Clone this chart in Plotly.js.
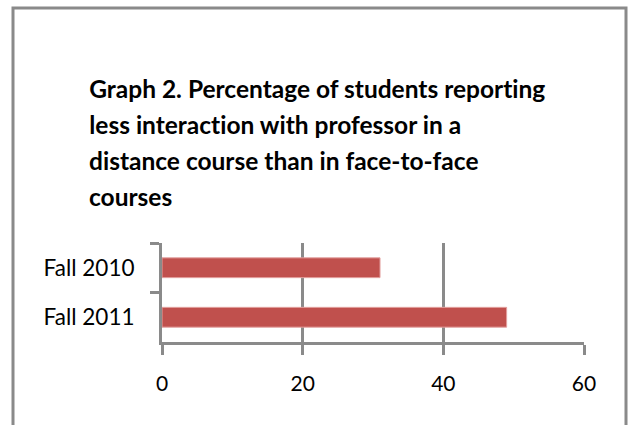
<!DOCTYPE html>
<html>
<head>
<meta charset="utf-8">
<script src="https://cdn.plot.ly/plotly-3.0.1.min.js"></script>
<style>
  html, body { margin: 0; padding: 0; background: #ffffff; }
  #chart { width: 631px; height: 425px; }
  #chart text { font-variant-ligatures: none; font-feature-settings: "liga" 0; }
</style>
</head>
<body>
<div id="chart"></div>
<script>
// ---- data ----
const categories = ['Fall 2010', 'Fall 2011'];
const values = [31, 49];
const xTickValues = [0, 20, 40, 60];
const xTickLabels = ['0', '20', '40', '60'];
const titleLines = [
  'Graph 2. Percentage of students reporting',
  'less interaction with professor in a',
  'distance course than in face-to-face',
  'courses'
];

// ---- layout helpers (pixel -> paper) ----
const W = 631, H = 425;
const M = { l: 162, r: 47, t: 243, b: 83 };
const PW = W - M.l - M.r, PH = H - M.t - M.b;
const px = x => (x - M.l) / PW;
const py = y => (H - M.b - y) / PH;

const gray = '#8a8a8a';
const titleY = [88, 124, 160, 196];

const annotations = titleLines.map((t, i) => ({
  text: t,
  xref: 'paper', yref: 'paper',
  x: px(87), y: py(titleY[i]),
  xanchor: 'left', yanchor: 'middle',
  showarrow: false,
  font: { family: 'Lato, sans-serif', size: 24.5, color: '#000000', weight: 'bold' }
}));

const trace = {
  type: 'bar',
  orientation: 'h',
  y: categories,
  x: values,
  width: 0.4,
  marker: { color: '#c0504d', line: { color: '#e3a19f', width: 1 } },
  hoverinfo: 'skip'
};

const layout = {
  width: W, height: H,
  margin: M,
  paper_bgcolor: '#ffffff',
  plot_bgcolor: '#ffffff',
  showlegend: false,
  font: { family: 'Lato, sans-serif', color: '#000000' },
  xaxis: {
    range: [0, 60],
    tickvals: xTickValues,
    ticktext: xTickLabels,
    showgrid: true, gridcolor: gray, gridwidth: 3,
    zeroline: false,
    showline: true, linecolor: gray, linewidth: 3,
    ticks: 'outside', ticklen: 10, tickwidth: 3, tickcolor: gray,
    ticklabelstandoff: 11,
    tickfont: { family: 'Lato, sans-serif', size: 21, color: '#000000' },
    fixedrange: true
  },
  yaxis: {
    type: 'category',
    autorange: 'reversed',
    tickson: 'boundaries',
    showgrid: false, zeroline: false,
    showline: true, linecolor: gray, linewidth: 3,
    ticks: 'outside', ticklen: 9, tickwidth: 3, tickcolor: gray,
    ticklabelstandoff: 20,
    tickfont: { family: 'Lato, sans-serif', size: 22.5, color: '#000000' },
    fixedrange: true
  },
  shapes: [{
    type: 'rect', xref: 'paper', yref: 'paper', layer: 'below',
    x0: px(13), x1: px(626), y0: py(440), y1: py(8),
    line: { color: gray, width: 3 }, fillcolor: 'rgba(0,0,0,0)'
  }],
  annotations: annotations
};

Plotly.newPlot('chart', [trace], layout, { displayModeBar: false, staticPlot: true });
</script>
</body>
</html>
